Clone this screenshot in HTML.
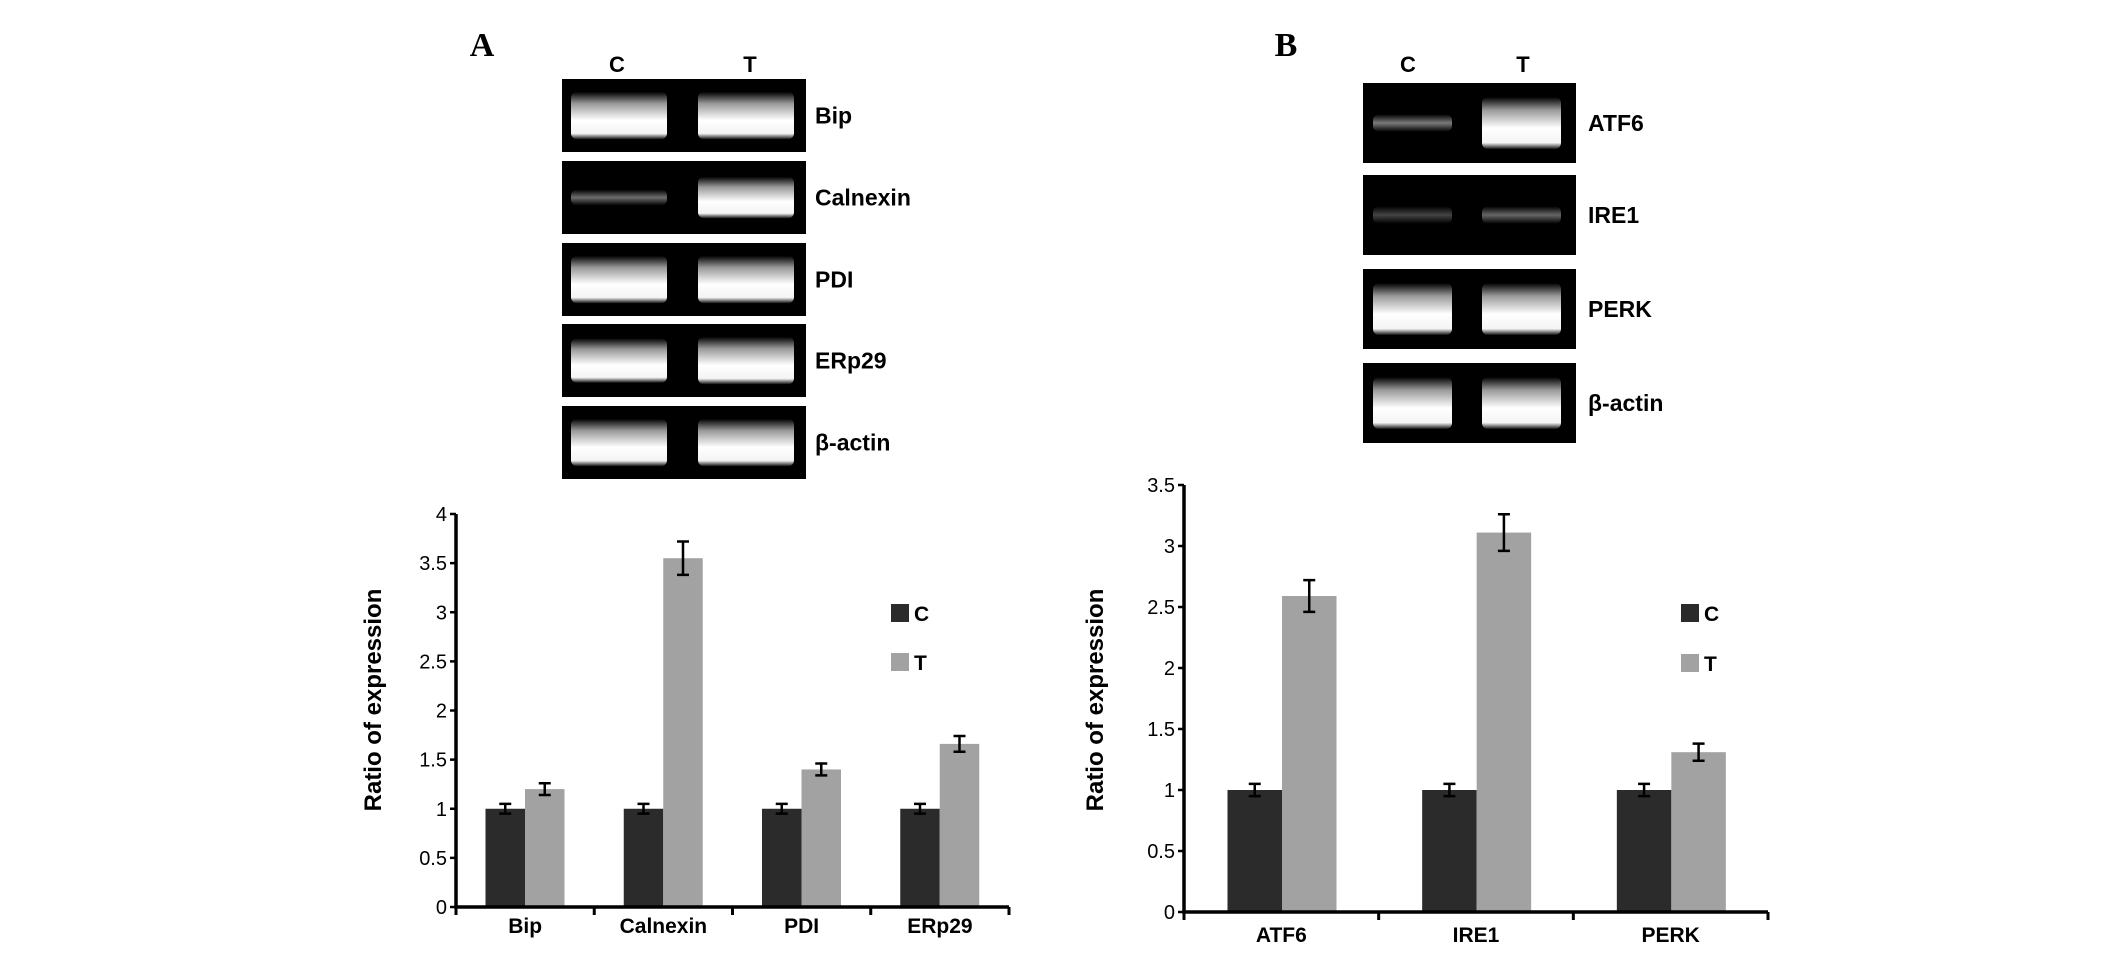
<!DOCTYPE html>
<html><head><meta charset="utf-8"><style>
html,body{margin:0;padding:0;background:#fff;}
svg{display:block;font-family:"Liberation Sans",Arial,sans-serif;}
</style></head><body>
<svg id="fig" width="2126" height="954" viewBox="0 0 2126 954">
<defs>
<linearGradient id="band" x1="0" y1="0" x2="0" y2="1">
<stop offset="0" stop-color="#000"/><stop offset="0.25" stop-color="#999"/><stop offset="0.6" stop-color="#fff"/><stop offset="0.88" stop-color="#f4f4f4"/><stop offset="1" stop-color="#111"/>
</linearGradient>
<linearGradient id="bandFaint" x1="0" y1="0" x2="0" y2="1">
<stop offset="0" stop-color="#000"/><stop offset="0.5" stop-color="#888"/><stop offset="1" stop-color="#000"/>
</linearGradient>
</defs>
<text x="482" y="56" font-family="Liberation Serif,serif" font-weight="bold" font-size="34" text-anchor="middle">A</text>
<text x="1286" y="56" font-family="Liberation Serif,serif" font-weight="bold" font-size="34" text-anchor="middle">B</text>
<g id="gels"></g>
<g id="chartA"></g>
<g id="chartB"></g>
</svg>
<script>
const NS="http://www.w3.org/2000/svg";
function mk(parent,tag,attrs,txt){const e=document.createElementNS(NS,tag);for(const k in attrs)e.setAttribute(k,attrs[k]);if(txt!==undefined)e.textContent=txt;parent.appendChild(e);return e;}

// Gel data
const gelANames=["Bip","Calnexin","PDI","ERp29","β-actin"];
const gelATops=[79,161,243,324,406];
const gelAIntensityC=[1,0.5,1,0.9,1];
const gelAIntensityT=[1,0.8,1,1,1];
const gelBNames=["ATF6","IRE1","PERK","β-actin"];
const gelBTops=[83,175,269,363];
const gelBIntensityC=[0.6,0.2,1,1];
const gelBIntensityT=[1,0.45,1,1];

const gels=document.getElementById('gels');
function drawGel(name,x0,x1,tops,h,names,ic,it,laneC,laneT,labX,cx,tx){
  const g=mk(gels,'g',{});
  
  
  const c=mk(g,'text',{x:cx,y:72,'font-size':22,'font-weight':'bold','text-anchor':'middle'},'C');
  
  
  const t=mk(g,'text',{x:tx,y:72,'font-size':22,'font-weight':'bold','text-anchor':'middle'},'T');
  
  
  names.forEach((n,i)=>{
    const y=tops[i];
    const r=mk(g,'rect',{x:x0,y:y,width:x1-x0,height:h,fill:'#000'});
    
    
    [[laneC,ic[i]],[laneT,it[i]]].forEach(([ln,iv])=>{
      const bh=iv>0.7?h*(0.25+0.4*iv):h*0.22;
      const b=mk(g,'rect',{x:ln[0],y:y+h*0.5-bh/2,width:ln[1]-ln[0],height:bh,rx:6,fill:iv>0.7?'url(#band)':'url(#bandFaint)',opacity:Math.min(1,0.3+iv)});
      
      
    });
    const l=mk(g,'text',{x:labX,y:y+h/2+8,'font-size':23,'font-weight':'bold'},n);
    
    
  });
}
drawGel('gel-panel-a',562,806,gelATops,73,gelANames,gelAIntensityC,gelAIntensityT,[571,667],[698,794],815,617,750);
drawGel('gel-panel-b',1363,1576,gelBTops,80,gelBNames,gelBIntensityC,gelBIntensityT,[1373,1452],[1482,1561],1588,1408,1523);

// Chart A data
const catsA=["Bip","Calnexin","PDI","ERp29"];
const cValsA=[1,1,1,1];
const cErrA=[0.05,0.05,0.05,0.05];
const tValsA=[1.2,3.55,1.4,1.66];
const tErrA=[0.06,0.17,0.06,0.08];
const ticksA=["0","0.5","1","1.5","2","2.5","3","3.5","4"];
// Chart B data
const catsB=["ATF6","IRE1","PERK"];
const cValsB=[1,1,1];
const cErrB=[0.05,0.05,0.05];
const tValsB=[2.59,3.11,1.31];
const tErrB=[0.13,0.15,0.07];
const ticksB=["0","0.5","1","1.5","2","2.5","3","3.5"];

function chart(id,o){
  const g=document.getElementById(id);
  
  
  const ymax=parseFloat(o.ticks[o.ticks.length-1]);
  const Y=v=>o.y0-(o.y0-o.y1)*v/ymax;
  const cw=(o.xr-o.x0)/o.cats.length;
  const X=i=>o.x0+i*cw;
  o.cats.forEach((c,i)=>{
    [[o.cv,o.ce,'#2b2b2b',0,'c'],[o.tv,o.te,'#a2a2a2',1,'t']].forEach(([vals,errs,col,k,s])=>{
      const bx=X(i)+o.off+k*o.bw;
      const b=mk(g,'rect',{x:bx,y:Y(vals[i]),width:o.bw,height:o.y0-Y(vals[i]),fill:col});
      
      
      const mx=bx+o.bw/2;
      const e=mk(g,'path',{d:`M${mx-6},${Y(vals[i]+errs[i])}H${mx+6}M${mx},${Y(vals[i]+errs[i])}V${Y(vals[i]-errs[i])}M${mx-6},${Y(vals[i]-errs[i])}H${mx+6}`,stroke:'#000','stroke-width':2.5,fill:'none'});
      
      
    });
    const l=mk(g,'text',{x:X(i)+cw/2,y:o.y0+o.labDy,'font-size':21,'font-weight':'bold','text-anchor':'middle'},c);
    
    
  });
  const ax=mk(g,'path',{d:`M${o.x0},${Y(ymax)}V${o.y0}H${o.xr}`,stroke:'#000','stroke-width':3.5,fill:'none'});
  
  
  for(let i=0;i<=o.cats.length;i++){
    const tk=mk(g,'line',{x1:X(i),x2:X(i),y1:o.y0,y2:o.y0+8,stroke:'#000','stroke-width':3});
    
    
  }
  o.ticks.forEach(t=>{
    const y=Y(parseFloat(t));
    const tk=mk(g,'line',{x1:o.x0-6,x2:o.x0,y1:y,y2:y,stroke:'#000','stroke-width':2.5});
    
    
    const l=mk(g,'text',{x:o.x0-9,y:y+7,'font-size':20,'text-anchor':'end'},t);
    
    
  });
  const yl=mk(g,'text',{x:o.ylx,y:700,'font-size':24,'font-weight':'bold','text-anchor':'middle',transform:`rotate(-90 ${o.ylx} 700)`},'Ratio of expression');
  
  
  [['C','#2b2b2b',o.lg[1]],['T','#a2a2a2',o.lg[2]]].forEach(([n,col,y])=>{
    const lg=mk(g,'g',{});
    
    
    mk(lg,'rect',{x:o.lg[0],y:y,width:18,height:18,fill:col});
    mk(lg,'text',{x:o.lg[0]+23,y:y+17,'font-size':21,'font-weight':'bold'},n);
  });
}
chart('chartA',{name:'chart-a',cats:catsA,cv:cValsA,ce:cErrA,tv:tValsA,te:tErrA,ticks:ticksA,x0:456,xr:1009,y0:907,y1:514,off:29.5,bw:39.5,ylx:381,lg:[891,604,653],labDy:26});
chart('chartB',{name:'chart-b',cats:catsB,cv:cValsB,ce:cErrB,tv:tValsB,te:tErrB,ticks:ticksB,x0:1184,xr:1768,y0:912,y1:485,off:43.5,bw:54.5,ylx:1103,lg:[1681,604,654],labDy:30});
</script>
</body></html>
